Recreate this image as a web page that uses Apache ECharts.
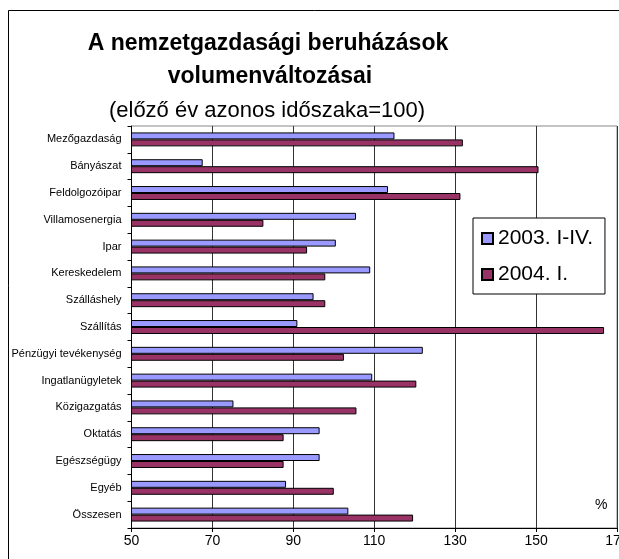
<!DOCTYPE html>
<html>
<head>
<meta charset="utf-8">
<script src="https://cdn.jsdelivr.net/npm/echarts@6/dist/echarts.min.js"></script>
<style>
  html, body { margin: 0; padding: 0; background: #fff; }
  #chart { width: 619px; height: 559px; }
</style>
</head>
<body>
<div id="chart"></div>
<script>
// sector names, top to bottom
const categories = [
  'Mezőgazdaság', 'Bányászat', 'Feldolgozóipar', 'Villamosenergia', 'Ipar',
  'Kereskedelem', 'Szálláshely', 'Szállítás', 'Pénzügyi tevékenység',
  'Ingatlanügyletek', 'Közigazgatás', 'Oktatás', 'Egészségügy', 'Egyéb', 'Összesen'
];
const series2003 = [115, 67.6, 113.4, 105.5, 100.5, 109, 95, 91, 122, 109.5, 75.2, 96.5, 96.5, 88.2, 103.6];
const series2004 = [131.9, 150.6, 131.3, 82.6, 93.4, 97.9, 97.9, 166.8, 102.5, 120.4, 105.6, 87.6, 87.6, 100, 119.6];
const xTicks = [50, 70, 90, 110, 130, 150, 170];

const chart = echarts.init(document.getElementById('chart'));
const font = 'Liberation Sans, Arial, sans-serif';

chart.setOption({
  animation: false,
  backgroundColor: '#fff',
  textStyle: { fontFamily: font },
  grid: {
    left: 131.5, right: 2, top: 126, bottom: 31,
    outerBoundsMode: 'none',
    containLabel: false,
    show: true, borderColor: '#888', borderWidth: 1
  },
  legend: {
    orient: 'vertical',
    left: 473, top: 218,
    padding: [10, 12, 9, 8],
    itemGap: 15,
    itemWidth: 11, itemHeight: 11,
    icon: 'rect',
    borderColor: '#000', borderWidth: 1,
    backgroundColor: '#fff',
    textStyle: { fontFamily: font, fontSize: 21, color: '#000' },
    data: ['2003. I-IV.', '2004. I.']
  },
  xAxis: {
    type: 'value',
    min: xTicks[0], max: xTicks[xTicks.length - 1], interval: 20,
    axisLine: { show: true, lineStyle: { color: '#000', width: 1 } },
    axisTick: { show: true, length: 4, lineStyle: { color: '#000' } },
    axisLabel: { color: '#000', fontSize: 14, margin: 6, fontFamily: font },
    splitLine: { show: true, lineStyle: { color: '#333', width: 1 } }
  },
  yAxis: {
    type: 'category',
    inverse: true,
    data: categories,
    axisLine: { show: true, lineStyle: { color: '#000', width: 1 } },
    axisTick: { show: true, length: 4, lineStyle: { color: '#000' } },
    axisLabel: { color: '#000', fontSize: 11, margin: 10, fontFamily: font }
  },
  series: [
    {
      name: '2003. I-IV.',
      type: 'bar',
      data: series2003,
      barGap: '0%',
      barCategoryGap: '48%',
      itemStyle: { color: '#9999ff', borderColor: '#000', borderWidth: 1 }
    },
    {
      name: '2004. I.',
      type: 'bar',
      data: series2004,
      barGap: '0%',
      barCategoryGap: '48%',
      itemStyle: { color: '#993366', borderColor: '#000', borderWidth: 1 }
    }
  ],
  graphic: [
    {
      type: 'rect', silent: true, z: -1,
      shape: { x: 8.5, y: 10.5, width: 700, height: 700 },
      style: { fill: 'none', stroke: '#000', lineWidth: 1 }
    },
    {
      type: 'text', x: 268, y: 32,
      style: { text: 'A nemzetgazdasági beruházások', font: 'bold 23px ' + font, fill: '#000', align: 'center', verticalAlign: 'top' }
    },
    {
      type: 'text', x: 270, y: 65,
      style: { text: 'volumenváltozásai', font: 'bold 23px ' + font, fill: '#000', align: 'center', verticalAlign: 'top' }
    },
    {
      type: 'text', x: 267, y: 100,
      style: { text: '(előző év azonos időszaka=100)', font: '22px ' + font, fill: '#000', align: 'center', verticalAlign: 'top' }
    },
    {
      type: 'text', x: 595, y: 498,
      style: { text: '%', font: '14px ' + font, fill: '#000' }
    }
  ]
});
</script>
</body>
</html>
